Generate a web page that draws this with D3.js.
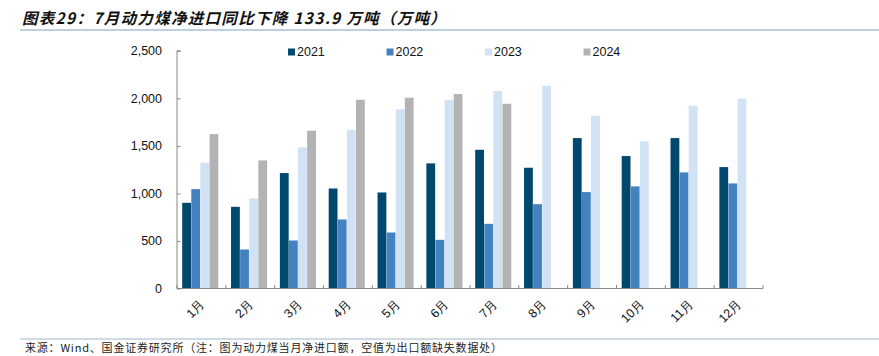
<!DOCTYPE html>
<html><head><meta charset="utf-8">
<script src="https://cdn.jsdelivr.net/npm/d3@7"></script>
<style>body{margin:0;background:#fff}svg{display:block}</style>
</head><body>
<svg id="c" width="879" height="356"></svg>
<script>
const months = ["1月","2月","3月","4月","5月","6月","7月","8月","9月","10月","11月","12月"];
const years = ["2021","2022","2023","2024"];
const v2021 = [901,859,1214,1052,1010,1316,1459,1270,1582,1393,1582,1277];
const v2022 = [1045,410,505,726,589,512,680,887,1014,1074,1221,1105];
const v2023 = [1322,947,1484,1666,1884,1985,2077,2133,1817,1547,1922,1996];
const v2024 = [1624,1347,1659,1985,2006,2045,1943,null,null,null,null,null];
const yTicks = [0,500,1000,1500,2000,2500];
const colors = ["#00486e","#4381c1","#d0e2f3","#b3b3b3"];
const title = "图表29：7月动力煤净进口同比下降 133.9 万吨（万吨）";
const source = "来源：Wind、国金证券研究所（注：图为动力煤当月净进口额，空值为出口额缺失数据处）";

const series = [v2021,v2022,v2023,v2024];
const svg = d3.select("#c");
const L = 177, R = 763, T = 50.8, B = 288.5;

svg.append("text").attr("x",22).attr("y",24)
  .attr("font-family","'Noto Sans CJK SC'").attr("font-size",15.5).attr("font-weight","bold")
  .attr("font-style","italic").attr("letter-spacing",1.3).attr("fill","#111").text(title);
svg.append("line").attr("x1",20).attr("x2",879).attr("y1",30).attr("y2",30)
  .attr("stroke","#a9c0d4").attr("stroke-width",1.5);

const x0 = d3.scaleBand().domain(months).range([L,R]).padding(0);
const x1 = d3.scaleBand().domain(years).range([5.2,41.6]).padding(0);
const y = d3.scaleLinear().domain([0,2500]).range([B,T]);

const g = svg.append("g");
months.forEach((m,i)=>{
  years.forEach((yr,j)=>{
    const v = series[j][i];
    if(v==null) return;
    g.append("rect").attr("x",x0(m)+x1(yr)).attr("width",x1.bandwidth()-0.3)
      .attr("y",y(v)).attr("height",y(0)-y(v)).attr("fill",colors[j]);
  });
});

// y axis
const ya = svg.append("g").attr("transform",`translate(${L},0)`)
  .call(d3.axisRight(y).tickValues(yTicks).tickSize(3.5).tickFormat(d3.format(",")));
ya.select(".domain").attr("stroke","#888").attr("d",`M3.5,${T}H0V${B}`);
ya.selectAll(".tick line").attr("stroke","#888");
ya.selectAll(".tick text").attr("x",-15).attr("text-anchor","end")
  .attr("font-family","'Liberation Sans',Arial").attr("font-size",12.5).attr("fill","#111");

// x axis
const xa = svg.append("g").attr("transform",`translate(0,${B})`);
xa.append("line").attr("x1",L).attr("x2",R).attr("y1",0).attr("y2",0).attr("stroke","#888");
const bounds = months.map(m=>x0(m)).concat([R]);
xa.selectAll("line.t").data(bounds).enter().append("line")
  .attr("x1",d=>d).attr("x2",d=>d).attr("y1",0).attr("y2",-3.5).attr("stroke","#888");
xa.selectAll("text").data(months).enter().append("text")
  .attr("transform",d=>`translate(${x0(d)+x0.bandwidth()/2+1},${13}) rotate(-45)`)
  .attr("text-anchor","end").attr("dy","0.35em")
  .attr("font-family","'Liberation Sans',Arial").attr("font-size",12.5).attr("fill","#111")
  .text(d=>d);

// legend
const lg = svg.append("g");
years.forEach((yr,j)=>{
  const lx = 288 + j*98.5;
  lg.append("rect").attr("x",lx).attr("y",48.5).attr("width",7).attr("height",7).attr("fill",colors[j]);
  lg.append("text").attr("x",lx+9).attr("y",52).attr("dy","0.35em")
    .attr("font-family","'Liberation Sans',Arial").attr("font-size",12.5).attr("fill","#111").text(yr);
});

// source
svg.append("line").attr("x1",20).attr("x2",879).attr("y1",339).attr("y2",339)
  .attr("stroke","#9fb6cc").attr("stroke-width",1.2);
svg.append("text").attr("x",25).attr("y",352)
  .attr("font-family","'Noto Sans CJK SC'").attr("font-size",11).attr("letter-spacing",0.8)
  .attr("fill","#222").text(source);
</script>
</body></html>
